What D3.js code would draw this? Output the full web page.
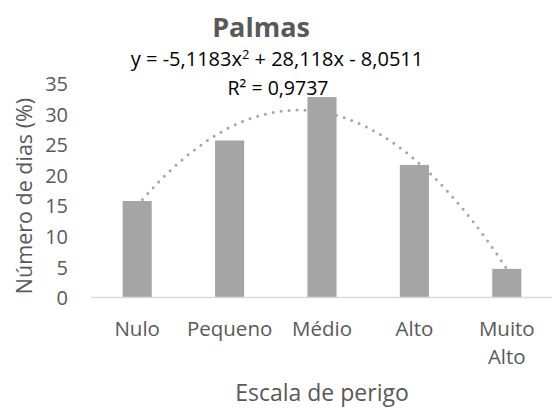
<!DOCTYPE html>
<html>
<head>
<meta charset="utf-8">
<script src="https://cdn.jsdelivr.net/npm/d3@7/dist/d3.min.js"></script>
<style>
  html, body { margin: 0; padding: 0; background: #fff; }
  svg { display: block; }
  text { font-family: "Open Sans", "Noto Sans", sans-serif; }
</style>
</head>
<body>
<svg id="chart" width="552" height="410"></svg>
<script>
// ---- data ----
const categories = ["Nulo", "Pequeno", "Médio", "Alto", "Muito Alto"];
const values = [15.7, 25.6, 32.7, 21.6, 4.6];
const yTicks = [0, 5, 10, 15, 20, 25, 30, 35];
const trendCoef = [-5.1183, 28.118, -8.0511]; // a x^2 + b x + c
const trendR2 = "0,9737";
const titleText = "Palmas";
const xTitle = "Escala de perigo";
const yTitle = "Número de dias (%)";

// ---- layout ----
const W = 552, H = 410;
const plot = { left: 91, right: 553, top: 83, bottom: 297 };
const svg = d3.select("#chart");

const x = d3.scaleBand().domain(categories)
  .range([plot.left, plot.right]).paddingInner(0.685).paddingOuter(0.3425);
const y = d3.scaleLinear().domain([0, 35]).range([plot.bottom, plot.top]);

// trendline (drawn behind bars)
const xT = d3.scaleLinear().domain([1, categories.length])
  .range([x(categories[0]) + x.bandwidth() / 2, x(categories[categories.length - 1]) + x.bandwidth() / 2]);
const tPts = d3.range(1, categories.length + 0.0001, 0.02)
  .map(t => [xT(t), y(trendCoef[0] * t * t + trendCoef[1] * t + trendCoef[2])]);
svg.append("path")
  .attr("d", d3.line()(tPts))
  .attr("fill", "none")
  .attr("stroke", "#a6a6a6")
  .attr("stroke-width", 3)
  .attr("stroke-linecap", "round")
  .attr("stroke-dasharray", "0 8");

// bars
svg.append("g").selectAll("rect").data(values).join("rect")
  .attr("x", (d, i) => x(categories[i]))
  .attr("y", d => y(d))
  .attr("width", x.bandwidth())
  .attr("height", d => y(0) - y(d))
  .attr("fill", "#a5a5a5");

// x axis line
svg.append("line")
  .attr("x1", plot.left).attr("x2", plot.right)
  .attr("y1", y(0) + 0.5).attr("y2", y(0) + 0.5)
  .attr("stroke", "#d9d9d9").attr("stroke-width", 1.3);

// y tick labels
const yAxis = d3.axisLeft(y).tickValues(yTicks).tickSize(0).tickPadding(0);
const gy = svg.append("g").attr("transform", `translate(68,0)`).call(yAxis);
gy.select(".domain").remove();
gy.selectAll("text")
  .attr("font-family", "Open Sans")
  .attr("font-size", 20)
  .attr("fill", "#595959")
  .attr("dy", "0.38em");

// x category labels
const gx = svg.append("g");
categories.forEach(c => {
  const words = c.split(" ");
  const t = gx.append("text")
    .attr("x", x(c) + x.bandwidth() / 2)
    .attr("y", 335.5)
    .attr("text-anchor", "middle")
    .attr("font-size", 20.5)
    .attr("fill", "#595959");
  words.forEach((w, k) => {
    t.append("tspan").attr("x", x(c) + x.bandwidth() / 2).attr("dy", k === 0 ? 0 : 28.6).text(w);
  });
});

// title
svg.append("text").attr("x", 261).attr("y", 36.5).attr("text-anchor", "middle")
  .attr("font-size", 27).attr("font-weight", "bold").attr("fill", "#595959").text(titleText);

// equation
const fmt = v => String(Math.abs(v)).replace(".", ",");
const eq = svg.append("text").attr("x", 277).attr("y", 66).attr("text-anchor", "middle")
  .attr("font-size", 20).attr("fill", "#000");
eq.append("tspan").text(`y = ${trendCoef[0] < 0 ? "-" : ""}${fmt(trendCoef[0])}x`);
eq.append("tspan").attr("font-size", 13).attr("dy", -7).text("2");
eq.append("tspan").attr("dy", 7).text(` ${trendCoef[1] < 0 ? "-" : "+"} ${fmt(trendCoef[1])}x ${trendCoef[2] < 0 ? "-" : "+"} ${fmt(trendCoef[2])}`);

svg.append("text").attr("x", 278).attr("y", 95).attr("text-anchor", "middle")
  .attr("font-size", 19.5).attr("fill", "#000").text(`R² = ${trendR2}`);

// axis titles
svg.append("text").attr("x", 322).attr("y", 401).attr("text-anchor", "middle")
  .attr("font-size", 23).attr("fill", "#595959").text(xTitle);
svg.append("text").attr("transform", "translate(32,196) rotate(-90)").attr("text-anchor", "middle")
  .attr("font-size", 21.5).attr("fill", "#595959").text(yTitle);
</script>
</body>
</html>
